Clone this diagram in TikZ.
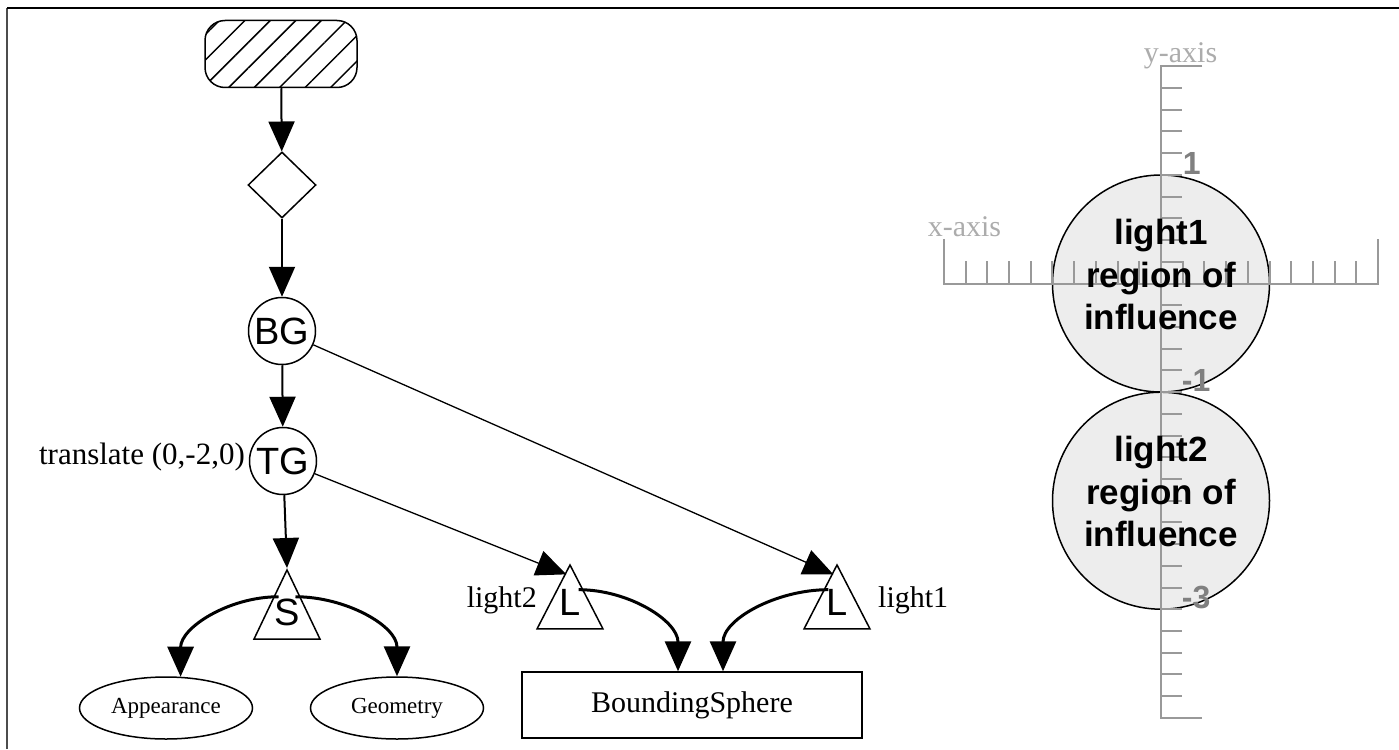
\documentclass[tikz,border=0pt]{standalone}
\usepackage{fontspec}
\setmainfont{Liberation Serif}
\setsansfont{Liberation Sans}
\usepackage{tikz}
\usetikzlibrary{shapes.geometric,arrows.meta,patterns.meta,calc}

\begin{document}
\begin{tikzpicture}[x=1pt,y=1pt,
arr/.style={-{Triangle[length=30pt,width=26pt]},line width=2pt},
thinarr/.style={arr,line width=1.3pt},
bendarr/.style={arr,line width=3pt},
grp/.style={circle,draw,line width=1.5pt,minimum size=67pt,inner sep=0pt,font=\fontsize{38}{40}\selectfont\sffamily},
leaf/.style={isosceles triangle,shape border rotate=90,isosceles triangle stretches,draw,line width=1.5pt,minimum width=66pt,minimum height=64pt,inner sep=0pt,text depth=12pt,font=\fontsize{38}{40}\selectfont\sffamily},
comp/.style={ellipse,draw,line width=1.5pt,minimum width=173pt,minimum height=62pt,font=\fontsize{23}{25}\selectfont},
lbl/.style={inner sep=0pt,font=\fontsize{30}{34}\selectfont},
axis/.style={draw=gray!80,line width=2pt},
axlbl/.style={inner sep=0pt,text=gray!65,font=\fontsize{30}{34}\selectfont},
numlbl/.style={inner sep=0pt,text=gray,font=\fontsize{32}{34}\selectfont\sffamily\bfseries},
zone/.style={circle,draw,line width=1.5pt,fill=black!7,minimum size=217pt,inner sep=0pt},
zonelbl/.style={align=center,yshift=9pt,font=\fontsize{35}{42.5}\selectfont\sffamily\bfseries}]
\useasboundingbox (0,0) rectangle (1399,-749);
\draw[line width=2pt,black!70] (7,-749) -- (7,-8);
\draw[line width=2pt] (7,-8) -- (1399,-8);

\node[draw,line width=1.5pt,rounded corners=20pt,minimum width=152pt,minimum height=67pt,
   pattern={Lines[angle=45,distance=18pt,line width=1.5pt]}] (start) at (281,-54) {};
\node[diamond,draw,line width=1.5pt,minimum width=68pt,minimum height=66pt,inner sep=0pt] (sw) at (282,-185) {};
\node[grp] (BG) at (282,-331) {BG};
\node[grp] (TG) at (283,-461) {TG};
\node[lbl,anchor=east,font=\fontsize{31}{34}\selectfont] (tlbl) at (245,-457) {translate (0,-2,0)};
\node[leaf,anchor=apex] (S) at (287,-568) {S};
\node[comp] (app) at (166,-708) {Appearance};
\node[comp] (geo) at (397,-708) {Geometry};
\node[leaf,anchor=apex] (L2) at (570,-563) {L};
\node[leaf,anchor=apex] (L1) at (837,-563) {L};
\node[lbl,anchor=east] (l2lbl) at (537,-600) {light2};
\node[lbl,anchor=west] (l1lbl) at (878,-600) {light1};
\node[draw,line width=1.5pt,minimum width=340pt,minimum height=66pt,
   font=\fontsize{30}{34}\selectfont] (BS) at (692,-705) {BoundingSphere};

\draw[arr] (start) -- (sw);
\draw[arr] (sw) -- (BG);
\draw[arr] (BG) -- (TG);
\draw[arr] (TG) -- (S.apex);
\draw[thinarr] (BG) -- ($(L1.apex)!0.17!(L1.south west)$);
\draw[thinarr] (TG) -- ($(L2.apex)!0.17!(L2.south west)$);
\draw[bendarr] ($(S.apex)!0.4!(S.south west)$) to[out=180,in=90] (app.65);
\draw[bendarr] ($(S.apex)!0.4!(S.south east)$) to[out=0,in=90] (geo.north);
\draw[bendarr] ($(L2.apex)!0.4!(L2.south east)$) to[out=0,in=90] ($(BS.north)+(-14,0)$);
\draw[bendarr] ($(L1.apex)!0.4!(L1.south west)$) to[out=180,in=90] ($(BS.north)+(31,0)$);

\begin{scope}[shift={(1161,-283.5)},x=108.6pt,y=108.6pt]
\node[zone] (z1) at (0,0) {};
\node[zone] (z2) at (0,-2) {};
\draw[axis] (-2,0.41) -- (-2,0) -- (2,0) -- (2,0.41);
\foreach \k in {1,...,19} {
   \draw[axis] (-2+\k*0.2,0) -- ++(0,0.21);
}
\draw[axis] (0.38,2) -- (0,2) -- (0,-4) -- (0.38,-4);
\foreach \k in {1,...,29} {
   \draw[axis] (0,-4+\k*0.2) -- ++(0.19,0);
}
\node[axlbl] (xlbl) at (-1.81,0.52) {x-axis};
\node[axlbl] (ylbl) at (0.18,2.1) {y-axis};
\node[numlbl,anchor=south west] (n1) at (0.2,1) {1};
\node[numlbl,anchor=south west] (nm1) at (0.19,-1) {-1};
\node[numlbl,anchor=south west] (nm3) at (0.19,-3) {-3};
\node[zonelbl] (z1lbl) at (z1) {light1\\region of\\influence};
\node[zonelbl] (z2lbl) at (z2) {light2\\region of\\influence};
\end{scope}
\end{tikzpicture}
\end{document}
